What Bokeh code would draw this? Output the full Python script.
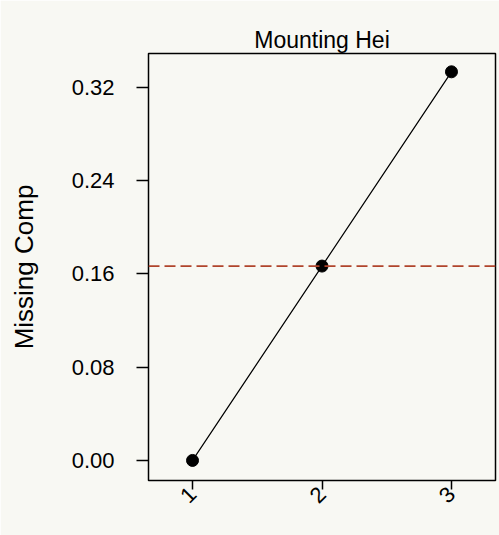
import math
from bokeh.plotting import figure
from bokeh.models import Span, FixedTicker, Range1d
from bokeh.embed import file_html
from bokeh.resources import INLINE

x_vals = [1, 2, 3]
y_vals = [0.0, 0.1667, 0.3333]
mean_val = 0.1667
y_ticks = [0.00, 0.08, 0.16, 0.24, 0.32]
x_ticks = [1, 2, 3]

bg = "#f8f8f3"
p = figure(width=499, height=535, output_backend="svg", toolbar_location=None,
           x_range=Range1d(0.66, 3.34), y_range=Range1d(-0.0172, 0.349),
           title="Mounting Hei",
           min_border_left=148, min_border_right=4, min_border_top=53, min_border_bottom=55)
p.background_fill_color = bg
p.border_fill_color = bg
p.outline_line_color = "black"
p.outline_line_width = 1.5
p.grid.visible = False

p.title.align = "center"
p.title.text_font = "Liberation Sans"
p.title.text_font_size = "23px"
p.title.text_font_style = "normal"
p.title.text_color = "black"
p.title.offset = 0
p.title.standoff = 2

for ax in (p.xaxis[0], p.yaxis[0]):
    ax.axis_line_color = None
    ax.major_tick_line_color = "black"
    ax.major_tick_line_width = 1.5
    ax.minor_tick_line_color = None
    ax.major_label_text_font = "Liberation Sans"
    ax.major_label_text_font_size = "22px"
    ax.major_label_text_color = "black"

p.yaxis.ticker = FixedTicker(ticks=y_ticks)
p.yaxis.major_label_overrides = {t: f"{t:.2f}" for t in y_ticks}
p.yaxis.major_tick_in = 0
p.yaxis.major_tick_out = 12
p.yaxis.major_label_standoff = 22
p.yaxis.axis_label = "Missing Comp"
p.yaxis.axis_label_text_font = "Liberation Sans"
p.yaxis.axis_label_text_font_size = "26px"
p.yaxis.axis_label_text_font_style = "normal"
p.yaxis.axis_label_text_color = "black"
p.yaxis.axis_label_standoff = 30

p.xaxis.ticker = FixedTicker(ticks=x_ticks)
p.xaxis.major_tick_in = 0
p.xaxis.major_tick_out = 9
p.xaxis.major_label_standoff = 1
p.xaxis.major_label_orientation = math.pi / 4

p.add_layout(Span(location=mean_val, dimension="width", line_color="#b0442c",
                  line_dash="11 5", line_width=1.8))
p.line(x_vals, y_vals, line_color="black", line_width=1.2)
p.scatter(x_vals, y_vals, size=12, fill_color="black", line_color="black")

open("out.html", "w").write(file_html(p, INLINE))
